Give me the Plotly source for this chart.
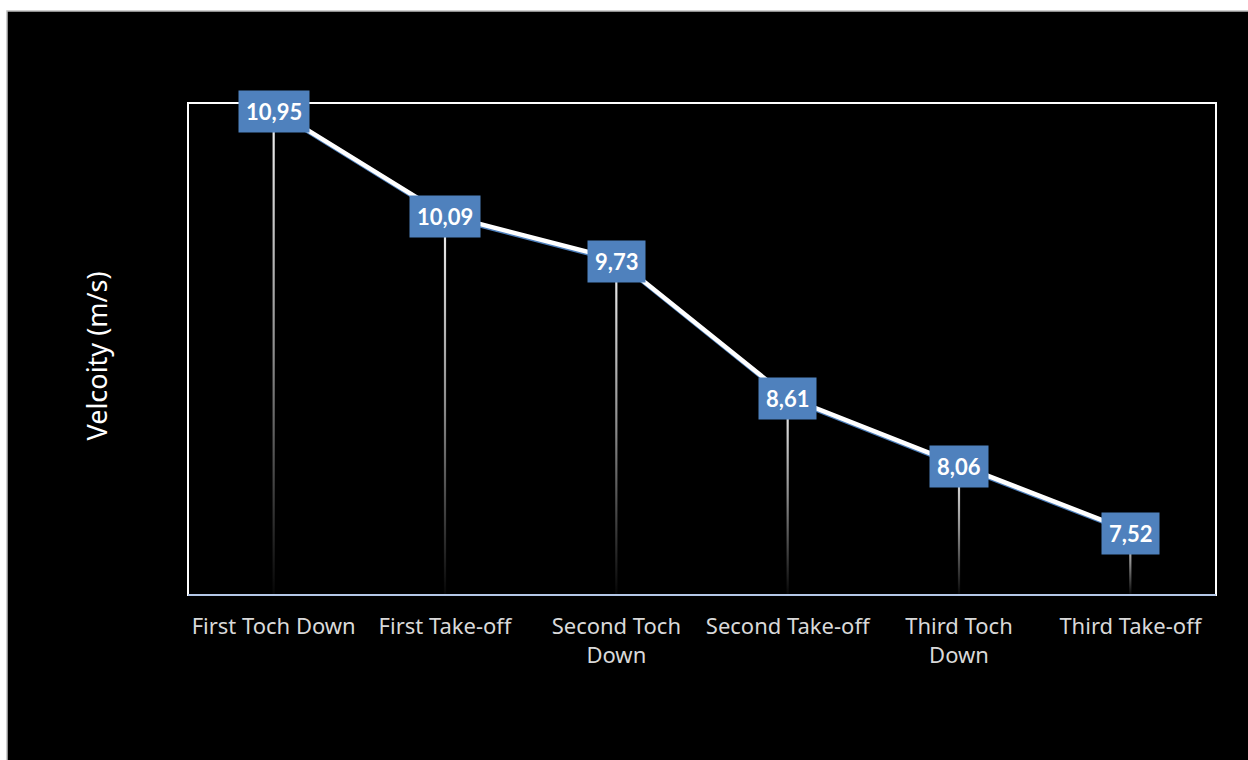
import plotly.graph_objects as go

categories = ["First Toch Down", "First Take-off", "Second Toch<br>Down",
              "Second Take-off", "Third Toch<br>Down", "Third Take-off"]
velocity = [10.95, 10.09, 9.73, 8.61, 8.06, 7.52]
value_labels = ["10,95", "10,09", "9,73", "8,61", "8,06", "7,52"]
y_title = "Velcoity (m/s)"

Y_MIN, Y_MAX = 7.0, 11.0
W, H = 1248, 760
L, R, T, B = 188, 32, 103, 165
pw, ph = W - L - R, H - T - B

xs = list(range(len(categories)))
x_per_px = len(categories) / pw

fig = go.Figure()

# gradient drop lines (thin filled bars with vertical gradient)
hw = 1.1 * x_per_px
for x, v in zip(xs, velocity):
    fig.add_trace(go.Scatter(
        x=[x - hw, x + hw, x + hw, x - hw, x - hw],
        y=[Y_MIN, Y_MIN, v, v, Y_MIN],
        mode="lines", fill="toself", line=dict(width=0),
        fillgradient=dict(type="vertical",
                          colorscale=[[0, "rgb(5,5,5)"], [0.5, "rgb(140,140,140)"], [1, "rgb(245,245,245)"]],
                          start=Y_MIN, stop=v),
        hoverinfo="skip", showlegend=False))

# shadow of the line (blue, slightly below)
fig.add_trace(go.Scatter(
    x=[x + 0.006 for x in xs], y=[v - 0.016 for v in velocity],
    mode="lines", line=dict(color="#4F81BD", width=4),
    hoverinfo="skip", showlegend=False))
fig.add_trace(go.Scatter(
    x=xs, y=velocity, mode="lines",
    line=dict(color="#FFFFFF", width=4.5),
    showlegend=False))

shapes = []
def px_to_paper_x(px):
    return (px - L) / pw
def px_to_paper_y(py):
    return (H - B - py) / ph

# outer frame (white margin at top/left, black area)
shapes.append(dict(type="rect", xref="paper", yref="paper",
                   x0=px_to_paper_x(7), x1=px_to_paper_x(W + 5),
                   y0=px_to_paper_y(H + 5), y1=px_to_paper_y(11),
                   fillcolor="#000000", line=dict(color="#BFBFBF", width=1.5),
                   layer="below"))

# plot border
shapes.append(dict(type="rect", xref="paper", yref="paper", x0=0, x1=1, y0=0, y1=1,
                   line=dict(color="#FFFFFF", width=2), layer="above"))
shapes.append(dict(type="line", xref="paper", yref="paper", x0=0, x1=1, y0=0, y1=0,
                   line=dict(color="#B4C7E7", width=2), layer="above"))

annotations = []
for x, v, lab in zip(xs, velocity, value_labels):
    annotations.append(dict(x=x, y=v, xref="x", yref="y", text=f"<b>{lab}</b>",
                            showarrow=False, bgcolor="#4F81BD", borderpad=7,
                            yshift=-2,
                            font=dict(family="Lato", size=22, color="#FFFFFF")))

annotations.append(dict(x=px_to_paper_x(75), y=px_to_paper_y(356), xref="paper", yref="paper",
                        text=y_title, textangle=-90, showarrow=False,
                        font=dict(family="Noto Sans", size=27, color="#FFFFFF")))

fig.update_layout(
    width=W, height=H,
    margin=dict(l=L, r=R, t=T, b=B),
    paper_bgcolor="#FFFFFF", plot_bgcolor="#000000",
    shapes=shapes, annotations=annotations,
    xaxis=dict(range=[-0.5, len(categories) - 0.5], tickmode="array",
               tickvals=xs, ticktext=categories, showgrid=False, zeroline=False,
               ticks="outside", ticklen=12, tickcolor="rgba(0,0,0,0)",
               tickfont=dict(family="Noto Sans", size=22, color="#D9D9D9"),
               fixedrange=True),
    yaxis=dict(range=[Y_MIN, Y_MAX], showgrid=False, zeroline=False,
               showticklabels=False, fixedrange=True),
)

fig.write_html("out.html")
